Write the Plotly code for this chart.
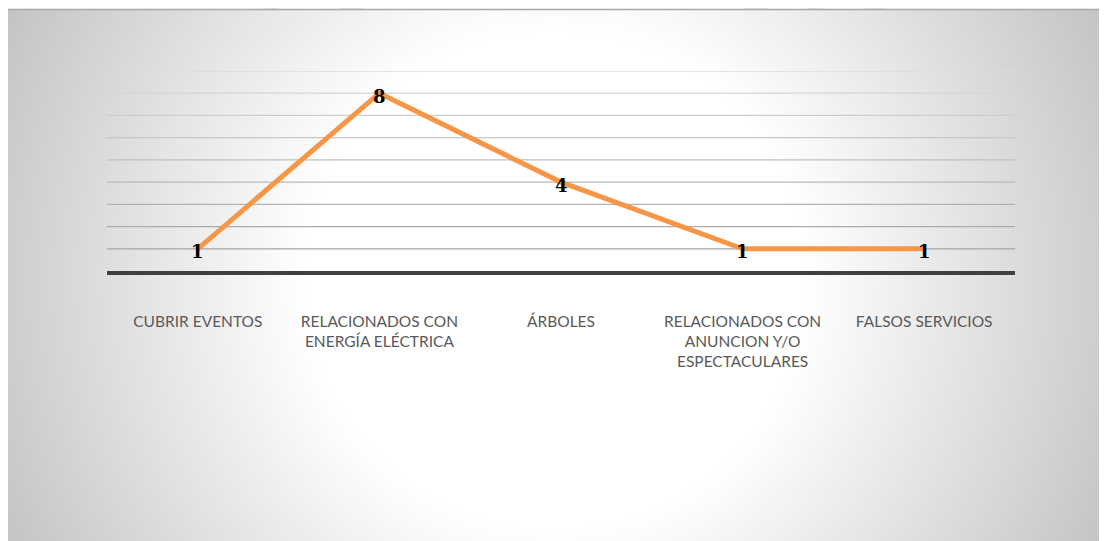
import base64
import plotly.graph_objects as go

# ---- data ----
categories = ["CUBRIR EVENTOS", "RELACIONADOS CON ENERGÍA ELÉCTRICA", "ÁRBOLES",
              "RELACIONADOS CON ANUNCION Y/O ESPECTACULARES", "FALSOS SERVICIOS"]
tick_labels = ["CUBRIR EVENTOS", "RELACIONADOS CON<br>ENERGÍA ELÉCTRICA", "ÁRBOLES",
               "RELACIONADOS CON<br>ANUNCION Y/O<br>ESPECTACULARES", "FALSOS SERVICIOS"]
values = [1, 8, 4, 1, 1]
grid_values = [1, 2, 3, 4, 5, 6, 7, 8, 9]

# page body adds an 8px offset; figure sized to fit the 1107x541 window
OFF = 8
W, H = 1107 - OFF, 541 - OFF
ML, MT = 107 - OFF, 71 - OFF
PW, PH = 908, 200
MR, MB = W - ML - PW, H - MT - PH

# ---- background (radial gradient panel + faint watermark), in window pixels ----
svg = f'''<svg xmlns="http://www.w3.org/2000/svg" width="{W}" height="{H}" viewBox="0 0 {W} {H}" preserveAspectRatio="none">
<defs><radialGradient id="g" gradientUnits="userSpaceOnUse" cx="555" cy="280" r="620">
<stop offset="0" stop-color="#ffffff"/><stop offset="0.40" stop-color="#ffffff"/>
<stop offset="1" stop-color="#c2c2c2"/></radialGradient></defs>
<g transform="translate({-OFF},{-OFF})">
<rect x="0" y="0" width="1107" height="541" fill="#ffffff"/>
<g fill="#ece4f1">
<polygon points="263,10 277,10 283,0 269,0"/>
<polygon points="330,0 350,0 364,10 342,10"/>
<polygon points="743,10 767,10 777,0 753,0"/>
<polygon points="807,5 823,5 823,10 807,10"/>
<polygon points="855,0 877,0 887,10 866,10"/>
</g>
<rect x="5" y="10" width="1099" height="531" fill="url(#g)"/>
<line x1="5" y1="9.5" x2="1104" y2="9.5" stroke="#a8a8a8" stroke-width="1.5"/>
</g>
</svg>'''
src = "data:image/svg+xml;base64," + base64.b64encode(svg.encode("utf-8")).decode("ascii")

fig = go.Figure()
fig.add_trace(go.Scatter(
    x=categories, y=values, mode="lines",
    line=dict(color="#F79646", width=5),
    cliponaxis=False, hoverinfo="skip", showlegend=False,
))

annotations = [dict(x=c, y=v, xref="x", yref="y", text=f"<b>{v}</b>", showarrow=False,
                    yshift=-3, font=dict(family="DejaVu Serif", size=18, color="#000000"))
               for c, v in zip(categories, values)]

def grid_color(v):
    t = (v - 1) / 8.0
    c0, c1 = 0xa4, 0xdc
    c = int(round(c0 + (c1 - c0) * t))
    return f"#{c:02x}{c:02x}{c:02x}"

shapes = [dict(type="line", xref="paper", yref="y", x0=0, x1=1, y0=v, y1=v,
               line=dict(color=grid_color(v), width=1.3), layer="below")
          for v in grid_values]

fig.update_layout(
    width=W, height=H,
    margin=dict(l=ML, r=MR, t=MT, b=MB, pad=0),
    paper_bgcolor="white", plot_bgcolor="rgba(0,0,0,0)",
    images=[dict(source=src, xref="paper", yref="paper",
                 x=-ML / PW, y=1 + MT / PH, sizex=W / PW, sizey=H / PH,
                 xanchor="left", yanchor="top", sizing="stretch", layer="below")],
    shapes=shapes,
    annotations=annotations,
    xaxis=dict(type="category", categoryorder="array", categoryarray=categories,
               tickvals=categories, ticktext=tick_labels, range=[-0.5, 4.5],
               showgrid=False, zeroline=False, showline=True,
               linecolor="#404040", linewidth=4, ticks="",
               ticklabelstandoff=33,
               tickfont=dict(family="Lato", size=15.5, color="#595959")),
    yaxis=dict(range=[0, 9], showgrid=False, zeroline=False, showline=False,
               showticklabels=False, ticks=""),
)

fig.write_html("out.html")
